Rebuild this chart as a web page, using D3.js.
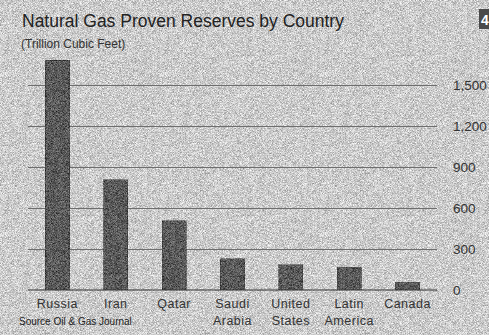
<!DOCTYPE html>
<html>
<head>
<meta charset="utf-8">
<style>
  body { margin: 0; background: #c6c6c6; }
  svg { display: block; font-family: "Liberation Sans", Arial, sans-serif; }
</style>
</head>
<body>
<div id="chartId"></div>
<script src="https://cdn.jsdelivr.net/npm/d3@7"></script>
<script>

// data
const countries = ["Russia", "Iran", "Qatar", "Saudi|Arabia", "United|States", "Latin|America", "Canada"];
const reserves = [1680, 805, 505, 227, 183, 168, 58];
const yTicks = [0, 300, 600, 900, 1200, 1500];

const W = 489, H = 335;
const margin = {top: 58, right: 52, bottom: 45, left: 28};
const width = W - margin.left - margin.right;
const height = H - margin.top - margin.bottom;

const svg = d3.select("#chartId").append("svg")
  .attr("width", W).attr("height", H);

// grainy look of the scanned page
const defs = svg.append("defs");
const f = defs.append("filter").attr("id", "grain")
  .attr("x", 0).attr("y", 0).attr("width", "100%").attr("height", "100%")
  .attr("color-interpolation-filters", "sRGB");
f.append("feTurbulence").attr("type", "fractalNoise").attr("baseFrequency", 1.6)
  .attr("numOctaves", 1).attr("seed", 7).attr("result", "n");
f.append("feColorMatrix").attr("in", "n").attr("type", "matrix")
  .attr("values", "1 0 0 0 0  1 0 0 0 0  1 0 0 0 0  0 0 0 0 1").attr("result", "g");
f.append("feComposite").attr("in", "SourceGraphic").attr("in2", "g")
  .attr("operator", "arithmetic").attr("k1", 0).attr("k2", 1).attr("k3", 0.8).attr("k4", -0.4);

svg.append("rect").attr("width", W).attr("height", H).attr("fill", "#cbcbcb").attr("filter", "url(#grain)");

const chart = svg.append("g").attr("transform", "translate(" + margin.left + "," + margin.top + ")");

const x = d3.scaleBand().domain(countries).range([0, width]).paddingInner(0.59).paddingOuter(0.3);
const y = d3.scaleLinear().domain([0, 1500]).range([height, height - 205]);

// gridlines
chart.append("g")
  .call(d3.axisRight(y).tickValues(yTicks.slice(1)).tickSize(width).tickFormat(""))
  .call(g => g.select(".domain").remove())
  .call(g => g.selectAll("line").attr("stroke", "#6e6e6e").attr("stroke-width", 1));

// bars
chart.selectAll(".bar")
  .data(reserves).enter()
  .append("rect")
  .attr("class", "bar")
  .attr("x", (d, i) => x(countries[i]))
  .attr("width", x.bandwidth())
  .attr("y", d => y(d))
  .attr("height", d => y(0) - y(d))
  .attr("fill", "#5a5a5a")
  .attr("filter", "url(#grain)");

// baseline
chart.append("line")
  .attr("x1", 0).attr("x2", width)
  .attr("y1", y(0)).attr("y2", y(0))
  .attr("stroke", "#333").attr("stroke-width", 1.2);

// y tick labels on the right
chart.append("g")
  .attr("transform", "translate(" + (width + 16) + ",0)")
  .call(d3.axisRight(y).tickValues(yTicks).tickSize(0).tickFormat(d3.format(",")))
  .call(g => g.select(".domain").remove())
  .call(g => g.selectAll("text").attr("fill", "#333").style("font-size", "13.5px").attr("x", 0));

// category labels
const labels = chart.append("g").selectAll("text")
  .data(countries).enter()
  .append("text")
  .attr("x", d => x(d) + x.bandwidth() / 2)
  .attr("y", y(0) + 18)
  .attr("text-anchor", "middle")
  .attr("fill", "#333")
  .style("font-size", "12.5px")
  .style("letter-spacing", "0.5px");
labels.each(function (d) {
  d.split("|").forEach((part, k) => {
    d3.select(this).append("tspan")
      .attr("x", x(d) + x.bandwidth() / 2)
      .attr("dy", k === 0 ? 0 : 17)
      .text(part);
  });
});

// titles
svg.append("text").attr("x", 22).attr("y", 27)
  .attr("fill", "#222").style("font-size", "17.5px")
  .text("Natural Gas Proven Reserves by Country");
svg.append("text").attr("x", 21).attr("y", 48)
  .attr("fill", "#333").style("font-size", "12px")
  .text("(Trillion Cubic Feet)");

// source note
svg.append("text").attr("x", 19).attr("y", 325)
  .attr("fill", "#222").style("font-size", "10px")
  .text("Source Oil & Gas Journal");

// page tag
svg.append("rect").attr("x", 479).attr("y", 9).attr("width", 10).attr("height", 20).attr("fill", "#4a4a4a");
svg.append("text").attr("x", 481).attr("y", 25)
  .attr("fill", "#fff").style("font-size", "14px").style("font-weight", "bold")
  .text("4");

</script>
</body>
</html>
